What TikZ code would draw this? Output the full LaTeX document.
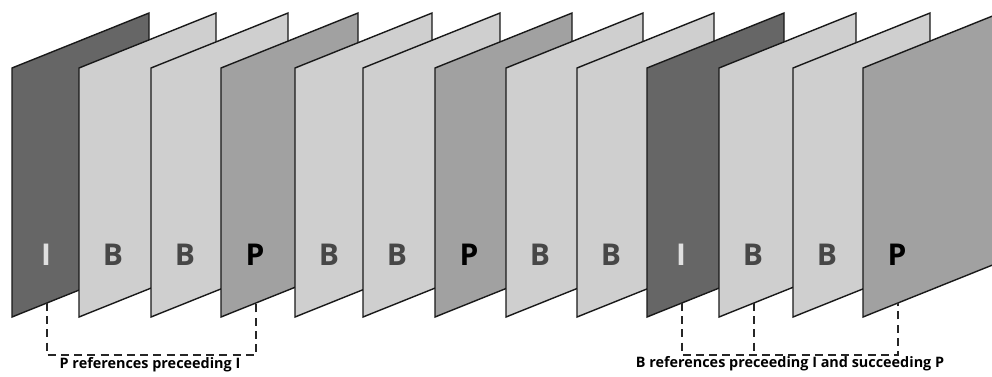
\documentclass[tikz,border=0pt]{standalone}
\usepackage{fontspec}
\setsansfont{Open Sans}
\usepackage{tikz}
\usetikzlibrary{calc}
\colorlet{fillI}{black!60}
\colorlet{fillB}{black!19}
\colorlet{fillP}{black!37}
\colorlet{txtI}{black!12}
\colorlet{txtB}{black!72}
\colorlet{txtP}{black}

\begin{document}
\begin{tikzpicture}[
    x=0.5pt, y=-0.5pt,
    frame/.style={draw=black!90, line width=0.7pt, line join=miter},
    letter/.style={font=\sffamily\bfseries\fontsize{15}{18}\selectfont, inner sep=0pt},
    refline/.style={draw=black!85, line width=0.6pt, dash pattern=on 4pt off 2.6pt},
    reftxt/.style={font=\sffamily\bfseries\fontsize{7.2}{9}\selectfont, inner sep=0pt},
]

% --- Canvas (reference proportions) ---
\clip (0,0) rectangle (992,376);

% --- Frames: parallelograms, each one in front of the previous ---
\foreach \L/\kind [count=\i] in {12/I, 79/B, 151/B, 221/P, 295/B, 363/B, 435/P,
                                 506/B, 577/B, 647/I, 719/B, 793/B, 863/P} {
  \draw[frame, fill=fill\kind] (\L,68) -- (\L+137,13) -- (\L+137,262) -- (\L,317) -- cycle;
  \node[letter, text=txt\kind] (lab\i) at (\L+34,255) {\kind};
  \coordinate (bot\i) at (\L+35,{317-35*55/137});
}

% --- Reference brackets below the frames ---
\coordinate (brk) at (0,355);
\draw[refline] (bot1) -- (bot1 |- brk) -| (bot4);
\draw[refline] (bot10) -- (bot10 |- brk) -| (bot13);
\draw[refline] (bot11) -- (bot11 |- brk);

% --- Bracket labels ---
\node[reftxt] (txt1) at (150,365) {P references preceeding I};
\node[reftxt] (txt2) at (790,364) {B references preceeding I and succeeding P};

\end{tikzpicture}
\end{document}
